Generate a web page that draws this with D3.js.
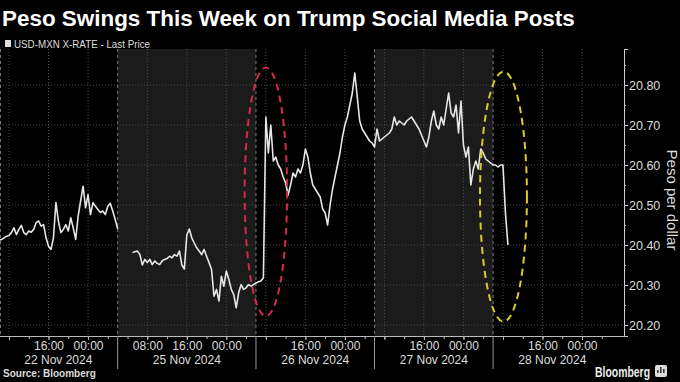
<!DOCTYPE html>
<html>
<head>
<meta charset="utf-8">
<script src="https://cdn.jsdelivr.net/npm/d3@7"></script>
<style>
body{margin:0;background:#000;}
svg text{font-family:"Liberation Sans",Arial,sans-serif;}
</style>
</head>
<body>
<div id="content"></div>
<script>
// sizes
var width = 680, height = 382;
var margin = {'left':0, 'top':49, 'right':56, 'bottom':46};
var plotW = width - margin.left - margin.right;
var plotH = height - margin.top - margin.bottom;

// texts
var title = "Peso Swings This Week on Trump Social Media Posts";
var legendLabel = "USD-MXN X-RATE - Last Price";
var axisTitle = "Peso per dollar";
var sourceText = "Source: Bloomberg";

// trading days, in chart hours (weekend removed, HKT clock)
var dayLabels = ["22 Nov 2024", "25 Nov 2024", "26 Nov 2024", "27 Nov 2024", "28 Nov 2024"];
var sessionStart = [0, 24, 52, 76, 100];
var sessionEnd = [24, 52, 76, 100, 124];
var shadedDays = [false, true, false, true, false];

// gridlines every 8 hours and their labels
var gridHours = [2, 10, 18, 30, 38, 46, 54, 62, 70, 78, 86, 94, 102, 110, 118];
var gridLabels = ["", "16:00", "00:00", "08:00", "16:00", "00:00", "", "16:00", "00:00", "", "16:00", "00:00", "", "16:00", "00:00"];

var yTicks = [20.20, 20.30, 20.40, 20.50, 20.60, 20.70, 20.80];

// prices, every 30 minutes
var step = 0.5;
var fridayStart = 0;
var fridayPrices = [20.412, 20.414, 20.418, 20.422, 20.424, 20.431, 20.443, 20.426, 20.439, 20.449,
  20.431, 20.426, 20.435, 20.432, 20.439, 20.456, 20.460, 20.447, 20.451, 20.418,
  20.397, 20.389, 20.418, 20.506, 20.460, 20.431, 20.439, 20.451, 20.435, 20.468,
  20.443, 20.414, 20.472, 20.510, 20.547, 20.493, 20.526, 20.476, 20.506, 20.497,
  20.489, 20.481, 20.485, 20.476, 20.497, 20.504, 20.485, 20.464, 20.440];

var weekStart = 27;
var weekPrices = [20.381, 20.383, 20.385, 20.376, 20.350, 20.364, 20.356, 20.364, 20.351, 20.360,
  20.354, 20.351, 20.360, 20.364, 20.366, 20.372, 20.368, 20.376, 20.372, 20.385,
  20.350, 20.340, 20.425, 20.440, 20.418, 20.405, 20.393, 20.385, 20.376, 20.389,
  20.372, 20.356, 20.339, 20.272, 20.289, 20.260, 20.322, 20.297, 20.335, 20.314,
  20.289, 20.276, 20.243, 20.281, 20.301, 20.289, 20.293, 20.301, 20.297, 20.301,
  20.305, 20.308, 20.310, 20.318, 20.720, 20.630, 20.700, 20.610, 20.620, 20.600,
  20.590, 20.570, 20.555, 20.525, 20.550, 20.580, 20.570, 20.590, 20.580, 20.600,
  20.640, 20.620, 20.580, 20.550, 20.540, 20.530, 20.520, 20.490, 20.480, 20.450,
  20.500, 20.540, 20.570, 20.600, 20.630, 20.670, 20.700, 20.720, 20.750, 20.780,
  20.830, 20.770, 20.710, 20.690, 20.680, 20.670, 20.660, 20.655, 20.645, 20.690,
  20.660, 20.665, 20.670, 20.675, 20.680, 20.690, 20.720, 20.700, 20.710, 20.705,
  20.700, 20.710, 20.715, 20.720, 20.710, 20.700, 20.690, 20.675, 20.660, 20.645,
  20.670, 20.710, 20.735, 20.700, 20.690, 20.720, 20.700, 20.740, 20.780, 20.730,
  20.720, 20.750, 20.680, 20.760, 20.650, 20.620, 20.645, 20.550, 20.590, 20.610,
  20.590, 20.640, 20.630, 20.615, 20.610, 20.605, 20.600, 20.600, 20.595, 20.600,
  20.600, 20.480, 20.400];

// circled moves: centre (hour, price) and half spans
var circled = [
  {'h':54.0, 'v':20.533, 'dh':4.3, 'dv':0.311, 'color':'#d42a48'},
  {'h':102.1, 'v':20.521, 'dh':4.75, 'dv':0.3125, 'color':'#d8cc2c'}
];

function toPoints(start, prices){
  return prices.map(function(v, i){ return {'h': start + i*step, 'v': v}; });
}

function fitWidth(sel, target){
  var w = sel.node().getComputedTextLength();
  var fs = parseFloat(sel.attr("font-size"));
  sel.attr("font-size", fs*target/w);
}

var x = d3.scaleLinear().domain([0.18, 126.5]).range([0, plotW]);
var y = d3.scaleLinear().domain([20.1725, 20.89]).range([plotH, 0]);

var svg = d3.select("#content").append("svg")
  .attr("width", width)
  .attr("height", height)
  .style("display", "block")
  .style("background", "#000");

// title + legend
var t = svg.append("text")
  .attr("x", 2).attr("y", 26)
  .attr("font-size", 20)
  .attr("font-weight", "bold")
  .attr("fill", "#fff")
  .text(title);
fitWidth(t, 573);

svg.append("rect").attr("x", 5).attr("y", 40).attr("width", 6).attr("height", 7).attr("fill", "#ddd");
svg.append("text")
  .attr("x", 14).attr("y", 47.5)
  .attr("font-size", 11.5)
  .attr("fill", "#ddd")
  .attr("textLength", 136)
  .attr("lengthAdjust", "spacingAndGlyphs")
  .text(legendLabel);

var g = svg.append("g").attr("transform", "translate(" + margin.left + "," + margin.top + ")");

g.append("clipPath").attr("id", "plotclip")
  .append("rect").attr("width", plotW).attr("height", plotH);

// shaded days
g.selectAll(".shade")
  .data(dayLabels.map(function(d, i){ return i; }).filter(function(i){ return shadedDays[i]; }))
  .enter().append("rect")
  .attr("x", function(i){ return x(sessionStart[i]); })
  .attr("y", 0)
  .attr("width", function(i){ return x(sessionEnd[i]) - x(sessionStart[i]); })
  .attr("height", plotH)
  .attr("fill", "#1b1b1b");

// grid
g.selectAll(".hgrid").data(yTicks).enter().append("line")
  .attr("x1", 0).attr("x2", plotW)
  .attr("y1", function(d){ return y(d); }).attr("y2", function(d){ return y(d); })
  .attr("stroke", "#4a4a4a").attr("stroke-dasharray", "1,2");

g.selectAll(".vgrid").data(gridHours).enter().append("line")
  .attr("x1", function(d){ return x(d); }).attr("x2", function(d){ return x(d); })
  .attr("y1", 0).attr("y2", plotH)
  .attr("stroke", "#4a4a4a").attr("stroke-dasharray", "1,2");

g.selectAll(".sep").data(sessionStart).enter().append("line")
  .attr("x1", function(d){ return Math.max(0.5, x(d)); }).attr("x2", function(d){ return Math.max(0.5, x(d)); })
  .attr("y1", 0).attr("y2", plotH)
  .attr("stroke", "#777").attr("stroke-dasharray", "3,3");

// price line
var line = d3.line()
  .x(function(d){ return x(d.h); })
  .y(function(d){ return y(d.v); });

var lines = g.append("g").attr("clip-path", "url(#plotclip)");
[toPoints(fridayStart, fridayPrices), toPoints(weekStart, weekPrices)].forEach(function(pts){
  lines.append("path")
    .datum(pts)
    .attr("d", line)
    .attr("fill", "none")
    .attr("stroke", "#e6e6e6")
    .attr("stroke-width", 1.6)
    .attr("stroke-linejoin", "round");
});

// ellipses
g.selectAll(".ring").data(circled).enter().append("ellipse")
  .attr("cx", function(d){ return x(d.h); })
  .attr("cy", function(d){ return y(d.v); })
  .attr("rx", function(d){ return x(d.h + d.dh) - x(d.h); })
  .attr("ry", function(d){ return y(d.v - d.dv) - y(d.v); })
  .attr("fill", "none")
  .attr("stroke", function(d){ return d.color; })
  .attr("stroke-width", 2)
  .attr("stroke-dasharray", "7,5");

// x axis
var xa = g.append("g").attr("transform", "translate(0," + plotH + ")");
xa.append("g").call(d3.axisBottom(x).tickValues(d3.range(2, 126, 4)).tickSize(3).tickFormat(""));
xa.append("g").call(d3.axisBottom(x).tickValues(gridHours).tickSize(4).tickPadding(1)
  .tickFormat(function(d, i){ return gridLabels[i]; }));
xa.selectAll("path").attr("stroke", "#bbb").attr("d", "M0,0.5H" + plotW);
xa.selectAll("line").attr("stroke", "#bbb");
xa.selectAll("text").attr("font-size", 12).attr("fill", "#ddd").attr("font-family", null);

xa.selectAll(".daysep").data(sessionStart.slice(1)).enter().append("line")
  .attr("x1", function(d){ return x(d); }).attr("x2", function(d){ return x(d); })
  .attr("y1", 0).attr("y2", 33)
  .attr("stroke", "#999");

xa.selectAll(".day").data(dayLabels).enter().append("text")
  .attr("x", function(d, i){ return (x(sessionStart[i]) + x(sessionEnd[i])) / 2; })
  .attr("y", 28)
  .attr("text-anchor", "middle")
  .attr("font-size", 12)
  .attr("fill", "#ddd")
  .text(function(d){ return d; });

// y axis
var ya = g.append("g").attr("transform", "translate(" + plotW + ",0)");
ya.append("g").call(d3.axisRight(y).tickValues(d3.range(20.25, 20.9, 0.1)).tickSize(2).tickFormat(""));
ya.append("g").call(d3.axisRight(y).tickValues(yTicks).tickSize(4).tickPadding(1).tickFormat(d3.format(".2f")));
ya.selectAll("path").attr("stroke", "#ccc");
ya.selectAll("line").attr("stroke", "#ccc");
ya.selectAll("text").attr("font-size", 12.5).attr("fill", "#ddd").attr("font-family", null);

svg.append("text")
  .attr("transform", "translate(667," + (margin.top + 151) + ") rotate(90)")
  .attr("text-anchor", "middle")
  .attr("font-size", 15)
  .attr("fill", "#ddd")
  .text(axisTitle);

// footer
svg.append("text")
  .attr("x", 3).attr("y", 377)
  .attr("font-family", "'DejaVu Sans Mono', monospace")
  .attr("font-weight", "bold")
  .attr("font-size", 10)
  .attr("fill", "#ddd")
  .text(sourceText);

svg.append("text")
  .attr("x", 595).attr("y", 377)
  .attr("font-weight", "bold")
  .attr("font-size", 15)
  .attr("fill", "#eee")
  .attr("textLength", 55)
  .attr("lengthAdjust", "spacingAndGlyphs")
  .text("Bloomberg");

svg.append("rect").attr("x", 655).attr("y", 365).attr("width", 12).attr("height", 12).attr("rx", 2).attr("fill", "#ddd");
svg.selectAll(".ic").data([3, 6, 9]).enter().append("rect")
  .attr("x", function(d){ return 655 + d - 1; })
  .attr("y", function(d, i){ return 373 - [3, 6, 4][i]; })
  .attr("width", 1.6)
  .attr("height", function(d, i){ return [3, 6, 4][i]; })
  .attr("fill", "#333");
</script>
</body>
</html>
